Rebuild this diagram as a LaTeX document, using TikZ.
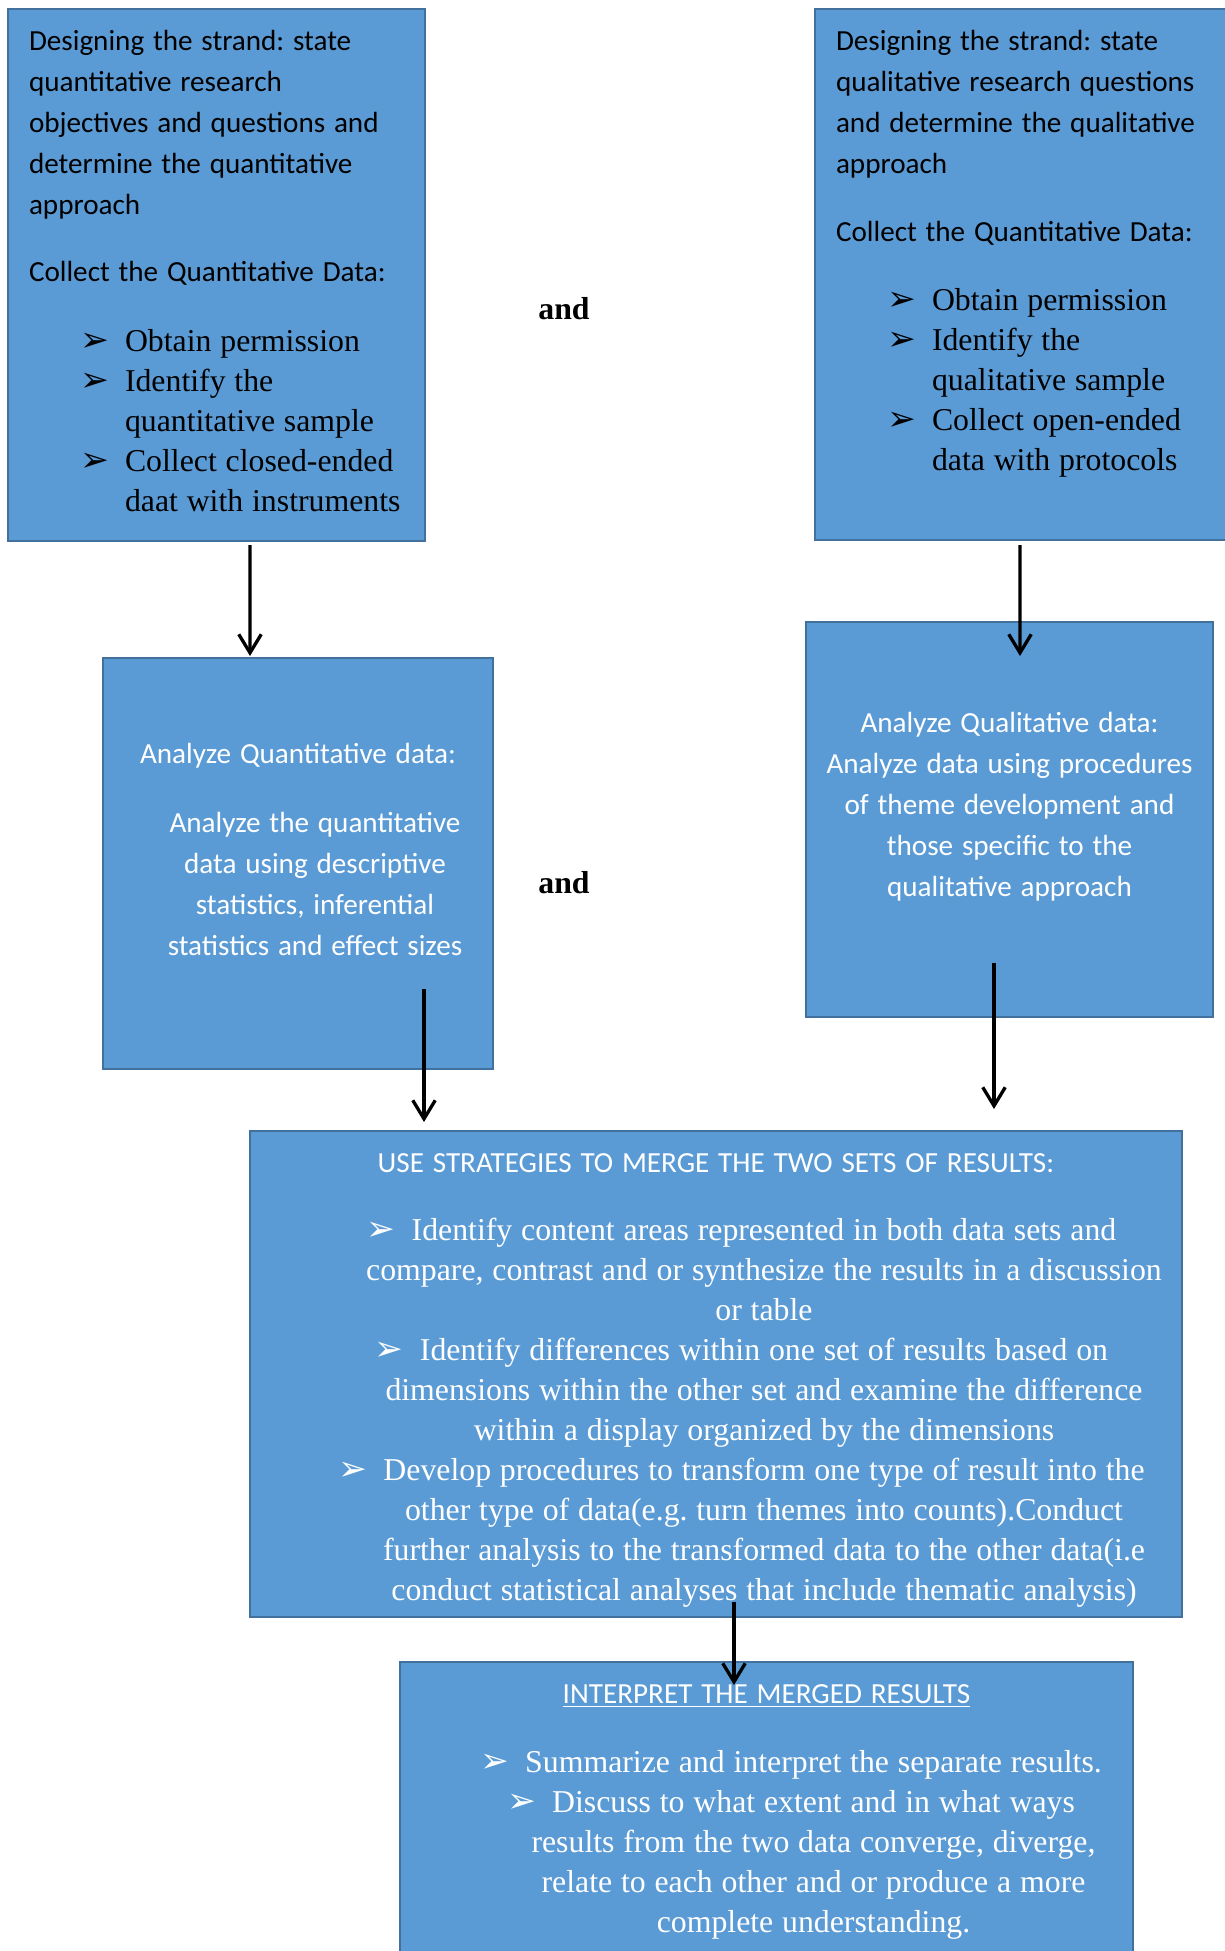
\documentclass[tikz,border=0pt]{standalone}
\usepackage{fontspec}
\setmainfont{Liberation Serif}
\newfontfamily\calibri{Carlito}
\newfontfamily\dingfont{DejaVu Sans}
\usetikzlibrary{positioning,calc,arrows.meta}
\frenchspacing
\newlength{\pix}\setlength{\pix}{0.3774pt}
\definecolor{boxfill}{HTML}{5B9BD5}
\definecolor{boxline}{HTML}{41719C}
\newcommand{\bodysans}{\calibri\fontsize{11}{15.5}\selectfont}
\newcommand{\bodyserif}{\fontsize{12}{15.1}\selectfont}
\newcommand{\bul}{\makebox[45\pix][l]{\dingfont\fontsize{13}{14}\selectfont ➢}}
\newcommand{\hbul}{\leavevmode\llap{\bul}}
\newcommand{\itm}{\hspace*{51\pix}\bul}
\newcommand{\cont}{\hspace*{96\pix}}
\newcommand{\shiftc}[1]{\centering\leftskip=#1\pix plus 1fil\relax}
\tikzset{
block/.style={
draw=boxline,
fill=boxfill,
line width=1pt,anchor=north west,inner sep=0pt,outer sep=0pt},
quest/.style={block,text width=375*\pix,align=left},
result/.style={block,text=white,align=center},
andlabel/.style={font=\bfseries\fontsize{12}{14}\selectfont},
line/.style={-{Straight Barb[length=7pt,width=8.5pt]},line width=1.25pt}
}

\begin{document}
\begin{tikzpicture}[x=0.3774pt,y=-0.3774pt]
  \path[use as bounding box,fill=white] (0,0) rectangle (1224,1951);
  \node[quest,minimum width=417*\pix,text height=41*\pix,text depth=491*\pix] (qntdesign) at (8,9) {%
    {\bodysans\raggedright Designing the strand: state\\quantitative research\\objectives and questions and\\determine the quantitative\\approach\par}
    \vspace{26\pix}
    {\bodysans\raggedright Collect the Quantitative Data:\par}
    \vspace{30\pix}
    {\bodyserif\raggedright\itm Obtain permission\\\itm Identify the\\\cont quantitative sample\\\itm Collect closed-ended\\\cont daat with instruments\par}};
  \node[quest,minimum width=417*\pix,text height=41*\pix,text depth=490*\pix] (qldesign) at (815,9) {%
    {\bodysans\raggedright Designing the strand: state\\qualitative research questions\\and determine the qualitative\\approach\par}
    \vspace{27.5\pix}
    {\bodysans\raggedright Collect the Quantitative Data:\par}
    \vspace{29\pix}
    {\bodyserif\raggedright\itm Obtain permission\\\itm Identify the\\\cont qualitative sample\\\itm Collect open-ended\\\cont data with protocols\par}};
  \node[andlabel] (and1) at (564,309) {and};
  \node[result,text width=370*\pix,minimum width=390*\pix,text height=105*\pix,text depth=306*\pix] (qntanalyze) at (103,658) {%
    {\bodysans\centering Analyze Quantitative data:\par}
    \vspace{28\pix}
    {\bodysans\shiftc{34}Analyze the quantitative\\data using descriptive\\statistics, inferential\\statistics and effect sizes\par}};
  \node[result,text width=387*\pix,minimum width=407*\pix,text height=110*\pix,text depth=285*\pix] (qlanalyze) at (806,622) {%
    {\bodysans\centering Analyze Qualitative data:\\Analyze data using procedures\\of theme development and\\those specific to the\\qualitative approach\par}};
  \node[andlabel] (and2) at (564,883) {and};
  \node[result,text width=900*\pix,minimum width=932*\pix,text height=41*\pix,text depth=445*\pix] (merge) at (250,1131) {%
    {\bodysans\centering USE STRATEGIES TO MERGE THE TWO SETS OF RESULTS:\par}
    \vspace{28\pix}
    {\bodyserif\shiftc{96}\hbul Identify content areas represented in both data sets and\\compare, contrast and or synthesize the results in a discussion\\or table\\\hbul Identify differences within one set of results based on\\dimensions within the other set and examine the difference\\within a display organized by the dimensions\\\hbul Develop procedures to transform one type of result into the\\other type of data(e.g. turn themes into counts).Conduct\\further analysis to the transformed data to the other data(i.e\\conduct statistical analyses that include thematic analysis)\par}};
  \node[result,text width=700*\pix,minimum width=733*\pix,text height=41*\pix,text depth=259*\pix] (interpret) at (400,1662) {%
    {\bodysans\centering\underline{INTERPRET THE MERGED RESULTS}\par}
    \vspace{29\pix}
    {\bodyserif\shiftc{94}\hbul Summarize and interpret the separate results.\\\hbul Discuss to what extent and in what ways\\results from the two data converge, diverge,\\relate to each other and or produce a more\\complete understanding.\par}};
  % connectors
  \draw[line] ([xshift=33.5*\pix,yshift=-4*\pix]qntdesign.south) -- ([xshift=-48*\pix,yshift=2*\pix]qntanalyze.north);
  \draw[line] ([xshift=-3.5*\pix,yshift=-5*\pix]qldesign.south) -- ([xshift=10.5*\pix,yshift=-34*\pix]qlanalyze.north);
  \draw[line] ([xshift=126*\pix,yshift=80*\pix]qntanalyze.south) -- ([xshift=-292*\pix,yshift=9*\pix]merge.north);
  \draw[line] ([xshift=-15.5*\pix,yshift=54*\pix]qlanalyze.south) -- ([xshift=278*\pix,yshift=22*\pix]merge.north);
  \draw[line] ([xshift=18*\pix,yshift=15*\pix]merge.south) -- ([xshift=-32.5*\pix,yshift=-23*\pix]interpret.north);
\end{tikzpicture}
\end{document}
